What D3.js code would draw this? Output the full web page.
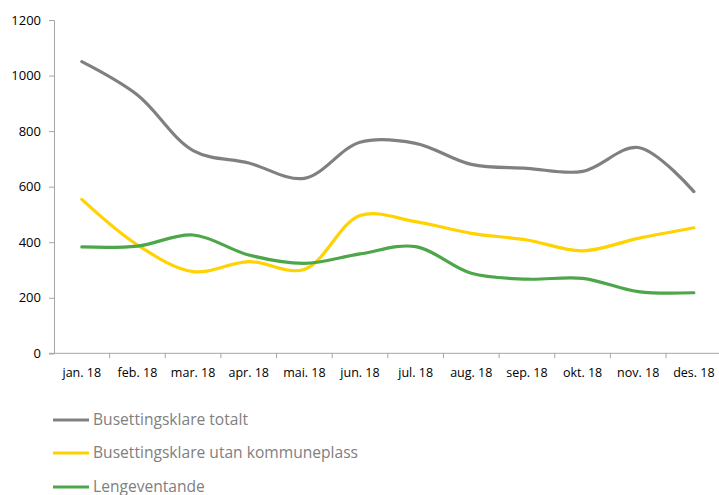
<!DOCTYPE html>
<html><head><meta charset="utf-8">
<script src="https://cdn.jsdelivr.net/npm/d3@7"></script>
<style>body{margin:0;background:#fff}svg{display:block}</style>
</head><body>
<svg id="c" width="719" height="495"></svg>
<script>
const months = ["jan. 18","feb. 18","mar. 18","apr. 18","mai. 18","jun. 18","jul. 18","aug. 18","sep. 18","okt. 18","nov. 18","des. 18"];
const totalt = [1050, 930, 730, 685, 630, 760, 756, 680, 666, 655, 741, 582];
const utanKommuneplass = [554, 390, 294, 330, 302, 496, 474, 432, 408, 369, 414, 452];
const lengeventande = [383, 386, 426, 354, 324, 358, 384, 288, 267, 270, 222, 218];
const yTicks = [0, 200, 400, 600, 800, 1000, 1200];
const seriesNames = ["Busettingsklare totalt", "Busettingsklare utan kommuneplass", "Lengeventande"];
const seriesColors = ["#808080", "#FFD200", "#4EA64A"];
const seriesData = [totalt, utanKommuneplass, lengeventande];

(function () {
const svg = d3.select("#c");
const mLeft = 54, mTop = 20, mBottom = 353.3;
const band = 55.64;
const x = d3.scaleBand().domain(months).range([mLeft, mLeft + band * months.length]);
const y = d3.scaleLinear().domain([0, 1200]).range([mBottom, mTop]);
const font = "'Open Sans', sans-serif";
const axisCol = "#a6a6a6";

// y axis
const ya = svg.append("g").attr("transform", `translate(${mLeft},0)`)
  .call(d3.axisLeft(y).tickValues(yTicks).tickFormat(d3.format("d")).tickSize(5).tickPadding(8));
ya.select(".domain").attr("stroke", axisCol);
ya.selectAll(".tick line").attr("stroke", axisCol);
ya.selectAll("text").attr("font-family", font).attr("font-size", 13).attr("fill", "#000");

// x axis with ticks at band boundaries
const xa = svg.append("g").attr("transform", `translate(0,${mBottom})`);
xa.append("line").attr("x1", mLeft - 5).attr("x2", mLeft + band * months.length)
  .attr("y1", 0).attr("y2", 0).attr("stroke", axisCol);
xa.selectAll("line.t").data(months.slice(1)).join("line").attr("class", "t")
  .attr("x1", d => x(d)).attr("x2", d => x(d)).attr("y1", 0).attr("y2", 5).attr("stroke", axisCol);
xa.selectAll("text").data(months).join("text")
  .attr("x", d => x(d) + x.bandwidth() / 2).attr("y", 24)
  .attr("text-anchor", "middle").attr("font-family", font).attr("font-size", 12.5).attr("fill", "#000")
  .text(d => d);

// lines
const line = d3.line().x((d, i) => x(months[i]) + x.bandwidth() / 2).y(d => y(d)).curve(d3.curveCatmullRom.alpha(0.5));
seriesData.forEach((s, k) => {
  svg.append("path").datum(s).attr("d", line).attr("fill", "none")
    .attr("stroke", seriesColors[k]).attr("stroke-width", 3.2).attr("stroke-linecap", "round");
});

// legend
const lg = svg.append("g");
const ly = [420, 453, 487];
seriesNames.forEach((n, k) => {
  lg.append("line").attr("x1", 53).attr("x2", 89).attr("y1", ly[k]).attr("y2", ly[k])
    .attr("stroke", seriesColors[k]).attr("stroke-width", 3.2);
  lg.append("text").attr("x", 93).attr("y", ly[k]).attr("dy", "0.35em")
    .attr("font-family", font).attr("font-size", 15.6).attr("fill", "#808080").text(n);
});
})();
</script>
</body></html>
